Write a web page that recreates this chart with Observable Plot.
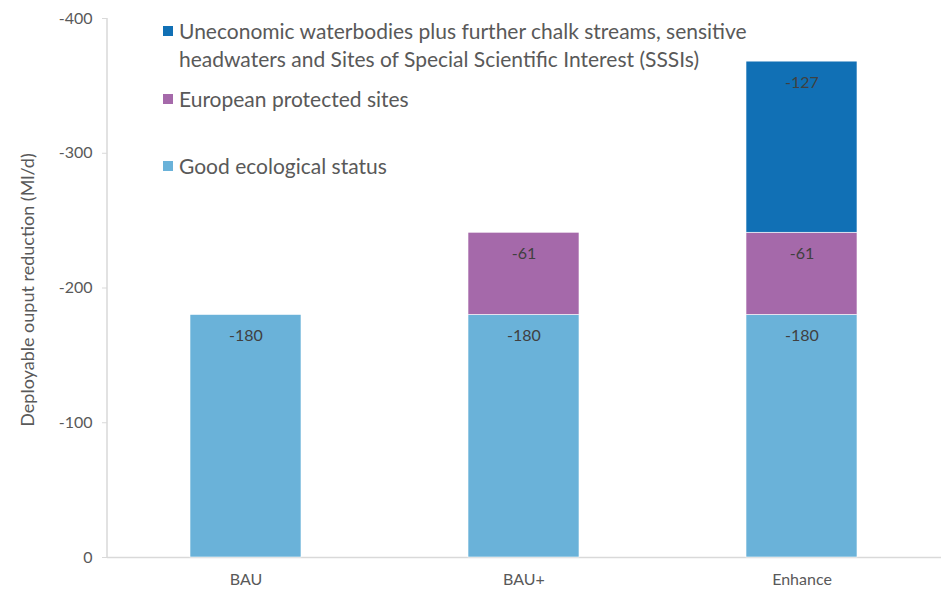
<!DOCTYPE html>
<html>
<head>
<meta charset="utf-8">
<script src="https://cdn.jsdelivr.net/npm/d3@7"></script>
<script src="https://cdn.jsdelivr.net/npm/@observablehq/plot@0.6"></script>
<style>
  html, body { margin: 0; padding: 0; background: #fff; }
  #wrap { position: relative; width: 941px; height: 590px; font-family: Lato, "Open Sans", sans-serif; }
  #legend { position: absolute; left: 163px; top: 17px; color: #595959; font-size: 21px; line-height: 28px; }
  .item { position: absolute; white-space: nowrap; left: 0; }
  .sw { position: absolute; left: 0; top: 9px; width: 10px; height: 10px; }
  .lbl { position: absolute; left: 16px; top: 0; }
</style>
</head>
<body>
<div id="wrap"></div>
<script>
const scenarios = ["BAU", "BAU+", "Enhance"];
const seriesNames = [
  "Good ecological status",
  "European protected sites",
  "Uneconomic waterbodies plus further chalk streams, sensitive headwaters and Sites of Special Scientific Interest (SSSIs)"
];
const legendLines = [
  ["Uneconomic waterbodies plus further chalk streams, sensitive", "headwaters and Sites of Special Scientific Interest (SSSIs)"],
  ["European protected sites"],
  ["Good ecological status"]
];
const goodEcological = [-180, -180, -180];
const europeanSites = [0, -61, -61];
const uneconomic = [0, 0, -127];
const colors = ["#6ab2d9", "#a569aa", "#1170b5"];
const yTicks = [0, -100, -200, -300, -400];

const seriesValues = [goodEcological, europeanSites, uneconomic];
const data = [];
seriesNames.forEach((s, si) => {
  scenarios.forEach((sc, i) => {
    data.push({scenario: sc, series: s, value: seriesValues[si][i]});
  });
});
const nonzero = data.filter(d => d.value !== 0);

const plot = Plot.plot({
  width: 941,
  height: 590,
  marginLeft: 107,
  marginRight: 0,
  marginTop: 18,
  marginBottom: 33,
  style: {fontFamily: "Lato, 'Open Sans', sans-serif", color: "#595959", background: "#fff"},
  x: {domain: scenarios, paddingInner: 0.6, paddingOuter: 0.3, label: null},
  y: {domain: [0, -400], label: null},
  color: {domain: seriesNames, range: colors},
  marks: [
    Plot.ruleY([0], {stroke: "#d9d9d9", strokeWidth: 1.5}),
    Plot.barY(nonzero, Plot.stackY({x: "scenario", y: "value", fill: "series", order: seriesNames, stroke: "#fff", strokeWidth: 0.6})),
    Plot.text(nonzero, Plot.stackY2({x: "scenario", y: "value", z: "series", order: seriesNames, text: d => String(d.value), dy: 21, fill: "#404040", fontSize: 16})),
    Plot.axisY({ticks: yTicks, tickFormat: d => String(d), tickSize: 5, tickPadding: 10, stroke: "#d9d9d9", fill: "#595959", fontSize: 16, label: null}),
    Plot.axisX({tickSize: 0, tickPadding: 16, fill: "#595959", fontSize: 16, label: null})
  ]
});
const wrap = document.getElementById("wrap");
wrap.appendChild(plot);

const svg = d3.select(plot);
svg.append("line").attr("x1", 107).attr("x2", 107).attr("y1", 18).attr("y2", 557)
  .attr("stroke", "#d9d9d9").attr("stroke-width", 1.5);
svg.append("text")
  .attr("transform", "translate(34,290) rotate(-90)")
  .attr("text-anchor", "middle")
  .attr("fill", "#595959")
  .attr("font-size", 18)
  .text("Deployable ouput reduction (Ml/d)");

const legend = document.createElement("div");
legend.id = "legend";
const tops = [0, 68, 135];
legendLines.forEach((lines, i) => {
  const it = document.createElement("div");
  it.className = "item";
  it.style.top = tops[i] + "px";
  const sw = document.createElement("div");
  sw.className = "sw";
  sw.style.background = colors[2 - i];
  it.appendChild(sw);
  const l = document.createElement("div");
  l.className = "lbl";
  l.innerHTML = lines.join("<br>");
  it.appendChild(l);
  legend.appendChild(it);
});
wrap.appendChild(legend);
</script>
</body>
</html>
